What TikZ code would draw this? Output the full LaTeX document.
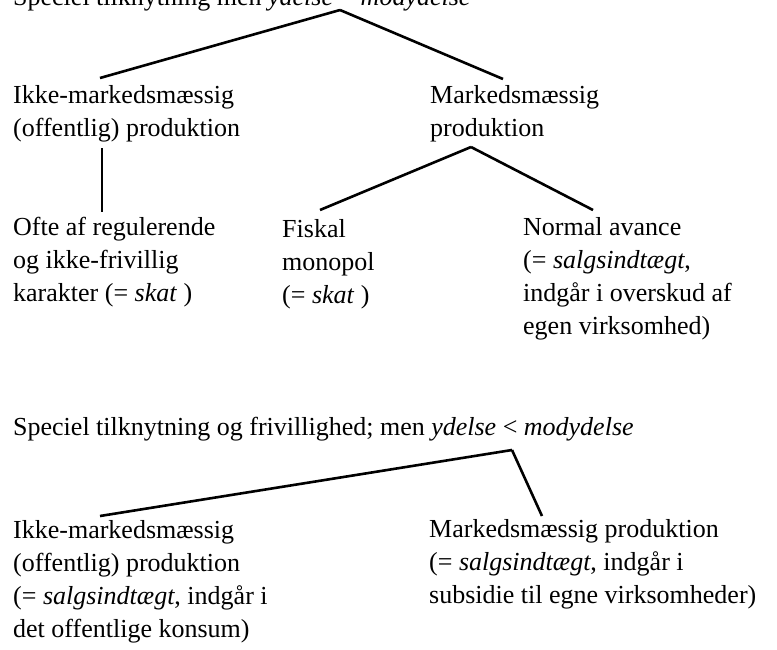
\documentclass[tikz,border=0pt]{standalone}
\usepackage{fontspec}
\setmainfont{Liberation Serif}
\begin{document}
\begin{tikzpicture}[x=1pt,y=-1pt]
      \useasboundingbox (0,0) rectangle (777,649);
      \clip (0,0) rectangle (777,649);
        % nodes sit on the baseline of their last line
        \begin{scope}[every node/.style={anchor=base west,inner sep=0pt,align=left,font=\fontsize{26}{33.3}\selectfont}]
          \node (head1) at (13,5) {Speciel tilknytning men \textit{ydelse} = \textit{modydelse}};
          \node (nonmkt1) at (13,136.3) {Ikke-markedsmæssig\\(offentlig) produktion};
          \node (mkt1) at (430,136.3) {Markedsmæssig\\produktion};
          \node (regul) at (13,301.6) {Ofte af regulerende\\og ikke-frivillig\\karakter (= \textit{skat} )};
          \node (fiskal) at (282,303.6) {Fiskal\\monopol\\(= \textit{skat} )};
          \node (avance) at (523,334.9) {Normal avance\\(= \textit{salgsindtægt},\\indgår i overskud af\\egen virksomhed)};
          \node (head2) at (13,435) {Speciel tilknytning og frivillighed; men \textit{ydelse} < \textit{modydelse}};
          \node (nonmkt2) at (13,637.9) {Ikke-markedsmæssig\\(offentlig) produktion\\(= \textit{salgsindtægt}, indgår i\\det offentlige konsum)};
          \node (mkt2) at (429,603.6) {Markedsmæssig produktion\\(= \textit{salgsindtægt}, indgår i\\subsidie til egne virksomheder)};
        \end{scope}
        \coordinate (top1) at (340,10);
        \coordinate (nonmkt1-in) at (100,78);
        \coordinate (mkt1-in) at (503,79);
        \coordinate (nonmkt1-out) at (102,148);
        \coordinate (regul-in) at (102,212);
        \coordinate (top2) at (471,147);
        \coordinate (fiskal-in) at (320,210);
        \coordinate (avance-in) at (593,210);
        \coordinate (top3) at (512,450);
        \coordinate (nonmkt2-in) at (100,516);
        \coordinate (mkt2-in) at (542,516);
      \begin{scope}[every edge/.style={draw=black,line width=2.6pt}]
        \path (top1) edge (nonmkt1-in);
        \path (top1) edge (mkt1-in);
        \path (nonmkt1-out) edge (regul-in);
        \path (top2) edge (fiskal-in);
        \path (top2) edge (avance-in);
        \path (top3) edge (nonmkt2-in);
        \path (top3) edge (mkt2-in);
      \end{scope}
      \end{tikzpicture}
\end{document}
